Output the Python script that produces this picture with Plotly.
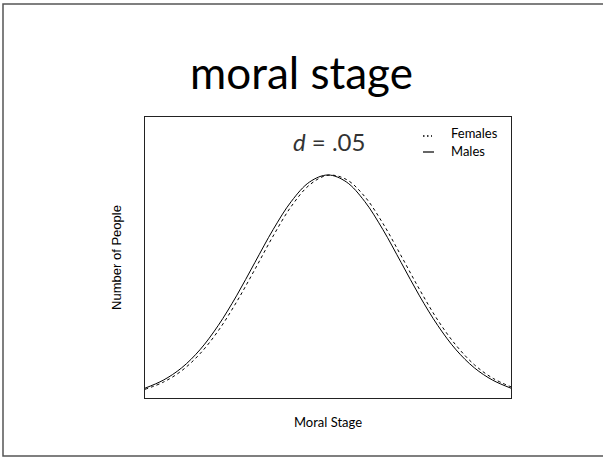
import plotly.graph_objects as go

# Moral stage (in SD units) and relative number of people
stage = [-2.5, -2.25, -2.0, -1.75, -1.5, -1.25, -1.0, -0.75, -0.5, -0.25, 0.0,
         0.25, 0.5, 0.75, 1.0, 1.25, 1.5, 1.75, 2.0, 2.25, 2.5]
males = [0.044, 0.080, 0.135, 0.216, 0.325, 0.458, 0.607, 0.755, 0.882, 0.969, 1.0,
         0.969, 0.882, 0.755, 0.607, 0.458, 0.325, 0.216, 0.135, 0.080, 0.044]
females = [0.039, 0.071, 0.122, 0.198, 0.301, 0.430, 0.576, 0.726, 0.860, 0.956, 0.999,
           0.980, 0.904, 0.783, 0.637, 0.487, 0.349, 0.236, 0.149, 0.089, 0.050]
series_names = ['Females', 'Males']

# plot area in pixels, used to place the decorations in paper units
L, R, T, B = 145, 511, 117, 398
def px(x):
    return (x - L) / (R - L)
def py(y):
    return (B - y) / (B - T)

fig = go.Figure()
fig.add_trace(go.Scatter(x=stage, y=females, name=series_names[0], mode='lines',
                         line=dict(color='black', width=1, dash='dot', shape='spline')))
fig.add_trace(go.Scatter(x=stage, y=males, name=series_names[1], mode='lines',
                         line=dict(color='black', width=1, shape='spline')))

axis = dict(showline=True, mirror=True, linecolor='#222', linewidth=1,
            showgrid=False, zeroline=False, showticklabels=False, ticks='')

fig.update_layout(
    width=603, height=458,
    margin=dict(l=L, r=603 - R, t=T, b=458 - B),
    paper_bgcolor='white', plot_bgcolor='white',
    font=dict(family='Lato, sans-serif', color='black'),
    title=dict(text='moral stage', x=0.5, xanchor='center', y=1 - 74 / 458,
               yanchor='middle', font=dict(size=44, color='black')),
    xaxis=dict(axis, range=[-2.5, 2.5],
               title=dict(text='Moral Stage', font=dict(size=13), standoff=19)),
    yaxis=dict(axis, range=[0, 1.26],
               title=dict(text='Number of People',
                          font=dict(size=13, family='Liberation Sans, Arial'), standoff=19)),
    showlegend=False,
)

fig.add_annotation(text='<i>d</i> = .05', xref='paper', yref='paper',
                   x=px(329), y=py(141), xanchor='center', yanchor='middle',
                   showarrow=False, font=dict(size=24, color='#333'))

# small legend in the top right corner
fig.add_shape(type='line', xref='paper', yref='paper', x0=px(423), x1=px(432),
              y0=py(136), y1=py(136), line=dict(color='black', width=1.4, dash='1.5px,2.5px'))
fig.add_shape(type='line', xref='paper', yref='paper', x0=px(423), x1=px(434),
              y0=py(152), y1=py(152), line=dict(color='black', width=1.2))
for name, ypos in zip(series_names, [133, 151]):
    fig.add_annotation(text=name, xref='paper', yref='paper', x=px(449), y=py(ypos),
                       xanchor='left', yanchor='middle', showarrow=False,
                       font=dict(size=13, color='black'))

# slide frame around the whole picture (its right side runs off the page)
fig.add_shape(type='rect', xref='paper', yref='paper',
              x0=px(3), x1=px(640), y0=py(456), y1=py(4),
              line=dict(color='#555', width=1.5))

fig.write_html("out.html", config={'displayModeBar': False},
               post_script="document.body.style.margin='0';")
